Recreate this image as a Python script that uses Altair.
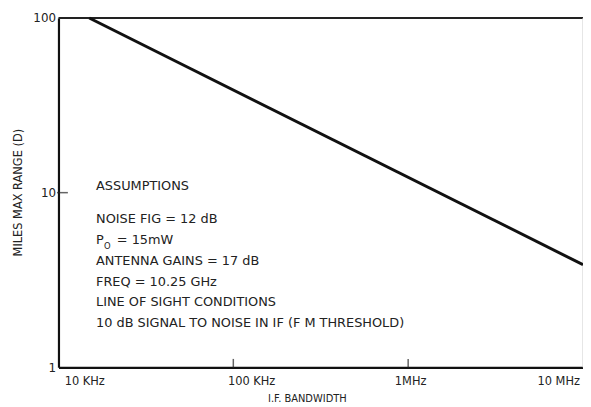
import altair as alt
import pandas as pd

# Data
bandwidth_hz = [15000, 10000000]
range_miles = [100, 3.87]

y_ticks = [1, 10, 100]
x_ticks = [10000, 100000, 1000000, 10000000]
x_tick_labels = ["10 KHz", "100 KHz", "1MHz", "10 MHz"]

inner_x_ticks = [100000, 1000000]
inner_y_ticks = [10]

notes = ["ASSUMPTIONS", "NOISE FIG  = 12 dB", "ANTENNA GAINS = 17 dB",
         "FREQ = 10.25 GHz", "LINE OF SIGHT CONDITIONS",
         "10 dB SIGNAL TO NOISE IN IF (F M THRESHOLD)"]
notes_y = [10.9, 7.08, 4.04, 3.07, 2.37, 1.80]
notes_x = [16400] * len(notes)

po_text = ["= 15mW"]
po_y = [5.38]

FONT = "DejaVu Sans"
INK = "#222222"

line_df = pd.DataFrame({"bw": bandwidth_hz, "d": range_miles})
notes_df = pd.DataFrame({"bw": notes_x, "d": notes_y, "t": notes})
po_df = pd.DataFrame({"bw": [16400], "d": po_y, "t": po_text})

label_expr = ("datum.value == 10000 ? '" + x_tick_labels[0] + "' : datum.value == 100000 ? '"
              + x_tick_labels[1] + "' : datum.value == 1000000 ? '" + x_tick_labels[2]
              + "' : '" + x_tick_labels[3] + "'")

xscale = alt.Scale(type="log", domain=[10000, 10000000], nice=False)
yscale = alt.Scale(type="log", domain=[1, 100], nice=False)

xaxis = alt.Axis(
    values=x_ticks, labelExpr=label_expr, ticks=False, grid=False, labelFlush=False,
    domainColor="#111111", domainWidth=2.2,
    labelFont=FONT, labelFontSize=11.5, labelColor=INK, labelPadding=8,
    labelOffset={"expr": "datum.value < 50000 ? 26 : datum.value < 500000 ? 18 : datum.value < 5000000 ? 2 : -25"},
    title="I.F. BANDWIDTH", titleFont=FONT, titleFontSize=10, titleFontWeight="normal",
    titleColor=INK, titleX=251, titleY=27, titleBaseline="top",
)
yaxis = alt.Axis(
    values=y_ticks, format="d", ticks=False, grid=False,
    domainColor="#111111", domainWidth=2.2,
    labelFont=FONT, labelFontSize=12, labelColor=INK, labelPadding=3,
    title="MILES MAX RANGE (D)", titleFont=FONT, titleFontSize=11.5,
    titleFontWeight="normal", titleColor=INK, titleX=-40, titleY=176,
    titleAlign="center", titleBaseline="middle", titleAngle=-90,
)

base = alt.Chart(line_df)

line = base.mark_line(color="#111111", strokeWidth=3).encode(
    x=alt.X("bw:Q", scale=xscale, axis=xaxis),
    y=alt.Y("d:Q", scale=yscale, axis=yaxis),
)

top_edge = alt.Chart(pd.DataFrame({"d": [100]})).mark_rule(
    color="#222222", strokeWidth=2).encode(
    y=alt.Y("d:Q", scale=yscale), x=alt.value(0), x2=alt.value(530))

right_edge = alt.Chart(pd.DataFrame({"bw": [10000000]})).mark_rule(
    color="#cccccc", strokeWidth=1).encode(
    x=alt.X("bw:Q", scale=xscale), y=alt.value(0), y2=alt.value(353))

xt = alt.Chart(pd.DataFrame({"bw": inner_x_ticks, "d": [1] * len(inner_x_ticks)})).mark_tick(
    orient="vertical", size=9, thickness=1.5, color="#222222", yOffset=-4).encode(
    x=alt.X("bw:Q", scale=xscale), y=alt.Y("d:Q", scale=yscale))

yt = alt.Chart(pd.DataFrame({"bw": [10000] * len(inner_y_ticks), "d": inner_y_ticks})).mark_tick(
    orient="horizontal", size=11, thickness=1.5, color="#222222", xOffset=4).encode(
    x=alt.X("bw:Q", scale=xscale), y=alt.Y("d:Q", scale=yscale))

text = alt.Chart(notes_df).mark_text(
    align="left", baseline="middle", font=FONT, fontSize=13, color=INK).encode(
    x=alt.X("bw:Q", scale=xscale), y=alt.Y("d:Q", scale=yscale), text="t:N")

p_main = alt.Chart(po_df).mark_text(
    align="left", baseline="middle", font=FONT, fontSize=13, color=INK).encode(
    x=alt.X("bw:Q", scale=xscale), y=alt.Y("d:Q", scale=yscale), text=alt.value("P"))
p_sub = alt.Chart(po_df).mark_text(
    align="left", baseline="middle", font=FONT, fontSize=8.5, color=INK, dx=8, dy=6).encode(
    x=alt.X("bw:Q", scale=xscale), y=alt.Y("d:Q", scale=yscale), text=alt.value("O"))
p_rest = alt.Chart(po_df).mark_text(
    align="left", baseline="middle", font=FONT, fontSize=13, color=INK, dx=21).encode(
    x=alt.X("bw:Q", scale=xscale), y=alt.Y("d:Q", scale=yscale), text="t:N")

chart = alt.layer(top_edge, right_edge, line, xt, yt, text, p_main, p_sub, p_rest).properties(
    width=530, height=353,
    autosize=alt.AutoSizeParams(type="none"),
    padding={"left": 51, "top": 8, "right": 0, "bottom": 38},
    background="white",
).configure_view(stroke=None)

chart.save("out.html", embed_options={"renderer": "svg", "actions": False})
